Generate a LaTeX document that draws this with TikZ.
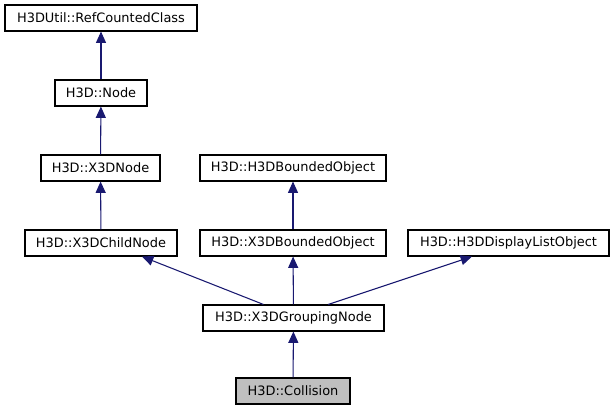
\documentclass[tikz,border=0pt]{standalone}
\usepackage{fontspec}
\setmainfont{DejaVu Sans}
\usetikzlibrary{arrows.meta}
\definecolor{edgeblue}{HTML}{191970}
\definecolor{focusgray}{HTML}{BFBFBF}
\tikzset{
  cls/.style={draw=black, line width=0.8pt, fill=white, inner sep=0pt,
    minimum height=19.5pt, font=\fontsize{9.7}{11}\selectfont, anchor=center},
  focus/.style={cls, fill=focusgray},
  inh/.style={draw=edgeblue, line width=0.8pt,
    {Triangle[length=8.5pt,width=7.5pt,fill=edgeblue]}-}
}
\begin{document}
\begin{tikzpicture}[x=0.75pt,y=-0.75pt]
\useasboundingbox (0,0) rectangle (615,411);
\node[cls, minimum width=144pt] (rc) at (101,18) {H3DUtil::RefCountedClass};
\node[cls, minimum width=69pt] (nd) at (101,93) {H3D::Node};
\node[cls, minimum width=89.25pt] (x3n) at (100.5,168) {H3D::X3DNode};
\node[cls, minimum width=139.5pt] (hbo) at (293,168) {H3D::H3DBoundedObject};
\node[cls, minimum width=114pt] (chn) at (101,243) {H3D::X3DChildNode};
\node[cls, minimum width=139.5pt] (xbo) at (293,243) {H3D::X3DBoundedObject};
\node[cls, minimum width=150.75pt] (dlo) at (508.5,243) {H3D::H3DDisplayListObject};
\node[cls, minimum width=135.75pt] (grp) at (293.5,318) {H3D::X3DGroupingNode};
\node[focus, minimum width=85.5pt] (col) at (293,391) {H3D::Collision};
\draw[inh] (rc) -- (nd);
\draw[inh] (nd) -- (x3n);
\draw[inh] (x3n) -- (chn);
\draw[inh] (hbo) -- (xbo);
\draw[inh] ([xshift=30.75pt]chn.south) -- ([xshift=-22.5pt]grp.north);
\draw[inh] (xbo) -- (grp);
\draw[inh] ([xshift=-27.4pt]dlo.south) -- ([xshift=26pt]grp.north);
\draw[inh] (grp) -- (col);
\end{tikzpicture}
\end{document}
